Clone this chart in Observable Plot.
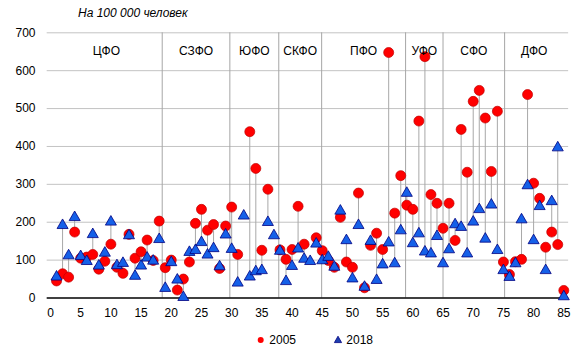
<!DOCTYPE html>
<html><head><meta charset="utf-8">
<script src="https://cdn.jsdelivr.net/npm/d3@7"></script>
<script src="https://cdn.jsdelivr.net/npm/@observablehq/plot@0.6"></script>
<style>
body{margin:0;background:#fff;font-family:"Liberation Sans",Arial,sans-serif;}
#wrap{position:relative;width:578px;height:355px;overflow:hidden;}
#chart{position:absolute;left:0;top:0;}
#title{position:absolute;left:78px;top:6px;font-size:12px;line-height:14px;font-style:italic;color:#000;}
.leg{position:absolute;top:333px;font-size:12px;line-height:14px;color:#000;white-space:nowrap;}
.leg svg{vertical-align:top;}
</style></head><body>
<div id="wrap"><div id="chart"></div><div id="title">На 100 000 человек</div><div id="legend"></div></div>
<script>
const regionIndex = d3.range(1, 86);
const values2005 = [45,64,55,174,105,108,115,76,97,142,
  81,65,168,105,122,153,99,203,80,100,
  21,50,95,197,234,179,194,78,190,240,
  115,null,439,342,126,287,null,127,102,128,
  242,142,null,159,125,99,81,213,95,81,
  277,27,139,171,128,648,224,323,245,234,
  467,637,273,250,184,250,152,445,332,519,
  548,475,334,493,95,62,96,102,537,303,
  263,134,174,141,20];
const values2018 = [60,196,116,217,114,101,172,89,123,205,
  90,96,169,62,89,110,102,159,30,98,
  52,6,125,130,151,118,135,87,171,133,
  44,221,60,74,77,204,169,128,48,88,
  134,107,101,147,103,112,86,234,156,55,
  196,33,154,51,92,150,95,182,281,148,
  174,126,121,167,95,132,198,191,121,205,
  238,160,250,130,77,59,95,211,301,156,
  246,77,259,401,8];
const seriesNames = ["2005", "2018"];
const xTicks = d3.range(0, 90, 5);
const yTicks = d3.range(0, 800, 100);
const districtNames = ["ЦФО","СЗФО","ЮФО","СКФО","ПФО","УФО","СФО","ДФО"];
const districtBounds = [18.5, 29.7, 37.8, 44.9, 58.8, 65, 75.2];

const rows = regionIndex.map((i, k) => ({i, a: values2005[k], b: values2018[k]}));
const stems = rows.filter(d => d.a != null && d.b != null);
const edges = [0, ...districtBounds, 85];
const labels = districtNames.map((name, k) => ({name, x: (edges[k] + edges[k + 1]) / 2}));

const RED = "#ff0000", RED_EDGE = "#c00000", BLUE = "#1560e8", BLUE_EDGE = "#000080";

const chart = Plot.plot({
  width: 578, height: 325,
  marginLeft: 50, marginRight: 14.7, marginTop: 32.3, marginBottom: 27.5,
  style: {fontFamily: "'Liberation Sans', Arial, sans-serif", fontSize: "12px", color: "#000", background: "#fff"},
  x: {domain: [0, 85], ticks: xTicks, tickSize: 0, tickPadding: 10, label: null},
  y: {domain: [0, 700], ticks: yTicks, tickSize: 0, tickPadding: 15, label: null},
  marks: [
    Plot.ruleY(yTicks.filter(v => v > 0), {x1: -0.55, x2: 85.8, stroke: "#c3c3c3", strokeWidth: 1}),
    Plot.ruleX(districtBounds, {y1: 0, y2: 700, stroke: "#a6a6a6", strokeWidth: 1}),
    Plot.ruleX(stems, {x: "i", y1: "a", y2: "b", stroke: "#a8a8a8", strokeWidth: 1}),
    Plot.ruleY([0], {x1: -0.55, x2: 85.8, stroke: "#000", strokeWidth: 1.6}),
    Plot.dot(rows.filter(d => d.a != null), {x: "i", y: "a", r: 5, fill: RED, stroke: RED_EDGE, strokeWidth: 0.7}),
    Plot.dot(rows, {x: "i", y: "b", symbol: "triangle", r: 4.1, dy: 1.6, fill: BLUE, stroke: BLUE_EDGE, strokeWidth: 0.8}),
    Plot.text(labels, {x: "x", frameAnchor: "top", dy: 14, text: "name", fontSize: 12, fill: "#000"})
  ]
});
document.getElementById("chart").appendChild(chart);

const legend = document.getElementById("legend");
const legPos = [{left: 256, marker: `<svg width="10" height="14"><circle cx="4.7" cy="7" r="3" fill="${RED}"/></svg>`},
                {left: 333, marker: `<svg width="10" height="14"><path d="M5,3.2 L8.6,9.6 L1.4,9.6 Z" fill="#1d3fb0" stroke="${BLUE_EDGE}" stroke-width="0.8"/></svg>`}];
seriesNames.forEach((name, k) => {
  const el = document.createElement("div");
  el.className = "leg";
  el.style.left = legPos[k].left + "px";
  el.innerHTML = legPos[k].marker + " " + name;
  legend.appendChild(el);
});
</script>
</body></html>
